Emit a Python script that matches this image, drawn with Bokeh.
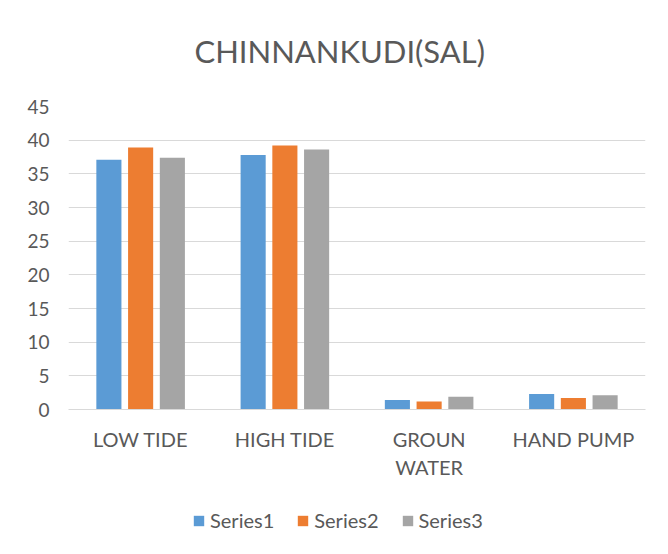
from bokeh.plotting import figure
from bokeh.layouts import column
from bokeh.models import (ColumnDataSource, FactorRange, Range1d, Legend, LegendItem,
                          SingleIntervalTicker, Label)
from bokeh.transform import dodge
from bokeh.embed import file_html
from bokeh.resources import INLINE

title_text = "CHINNANKUDI(SAL)"
categories = ["LOW TIDE", "HIGH TIDE", "GROUN\nWATER", "HAND PUMP"]
series1 = [37.1, 37.8, 1.4, 2.3]
series2 = [38.9, 39.2, 1.2, 1.7]
series3 = [37.4, 38.6, 1.9, 2.1]
series_names = ["Series1", "Series2", "Series3"]
colors = ["#5b9bd5", "#ed7d31", "#a5a5a5"]

src = ColumnDataSource(dict(cat=categories, s1=series1, s2=series2, s3=series3))

FONT = "Lato"
TXT = "#595959"
W = 652

def bare(fig):
    fig.outline_line_color = None
    fig.xgrid.grid_line_color = None
    fig.ygrid.grid_line_color = None

# title strip
tf = figure(width=W, height=96, output_backend="svg", toolbar_location=None,
            x_range=Range1d(0, 1), y_range=Range1d(0, 1), x_axis_type=None, y_axis_type=None,
            min_border_left=68, min_border_right=7, min_border_top=0, min_border_bottom=0)
bare(tf)
tf.add_layout(Label(x=0.47, y=0.47, text=title_text, text_align="center", text_baseline="middle",
                    text_font=FONT, text_font_size="31px", text_color=TXT))

# main chart
p = figure(x_range=FactorRange(*categories), y_range=Range1d(0, 45),
           width=W, height=404, output_backend="svg", toolbar_location=None,
           min_border_left=68, min_border_right=7, min_border_top=10, min_border_bottom=91)

offsets = [-0.22, 0.0, 0.22]
for key, off, col in zip(["s1", "s2", "s3"], offsets, colors):
    p.vbar(x=dodge("cat", off, range=p.x_range), top=key, width=0.174, source=src,
           fill_color=col, line_color=None)

p.outline_line_color = None
p.xgrid.grid_line_color = None
p.ygrid.grid_line_color = "#d9d9d9"
p.yaxis.ticker = SingleIntervalTicker(interval=5)
p.yaxis.axis_line_color = None
p.yaxis.major_tick_line_color = None
p.yaxis.minor_tick_line_color = None
p.yaxis.major_label_text_font = FONT
p.yaxis.major_label_text_font_size = "19px"
p.yaxis.major_label_text_color = TXT
p.yaxis.major_label_standoff = 13

p.xaxis.axis_line_color = "#d9d9d9"
p.xaxis.major_tick_line_color = None
p.xaxis.minor_tick_line_color = None
p.xaxis.major_label_text_font = FONT
p.xaxis.major_label_text_font_size = "20px"
p.xaxis.major_label_text_color = TXT
p.xaxis.major_label_standoff = 11

# legend strip
lg = figure(width=W, height=46, output_backend="svg", toolbar_location=None,
            x_range=FactorRange(*categories), y_range=Range1d(100, 101),
            x_axis_type=None, y_axis_type=None,
            min_border_left=68, min_border_right=7, min_border_top=0, min_border_bottom=0)
bare(lg)
keys = []
for key, off, col in zip(["s1", "s2", "s3"], offsets, colors):
    r = lg.vbar(x=dodge("cat", off, range=lg.x_range), top=key, width=0.174, source=src,
                fill_color=col, line_color=None, visible=False)
    keys.append(r)
legend = Legend(items=[LegendItem(label=n, renderers=[r]) for n, r in zip(series_names, keys)],
                orientation="horizontal", location=(124, 14),
                label_text_font=FONT, label_text_font_size="20px", label_text_color=TXT,
                glyph_width=13, glyph_height=13, spacing=22, label_standoff=5,
                padding=0, margin=0,
                border_line_color=None, background_fill_alpha=0)
lg.add_layout(legend, "center")

layout = column(tf, p, lg, spacing=0)
open("out.html", "w").write(file_html(layout, INLINE))
